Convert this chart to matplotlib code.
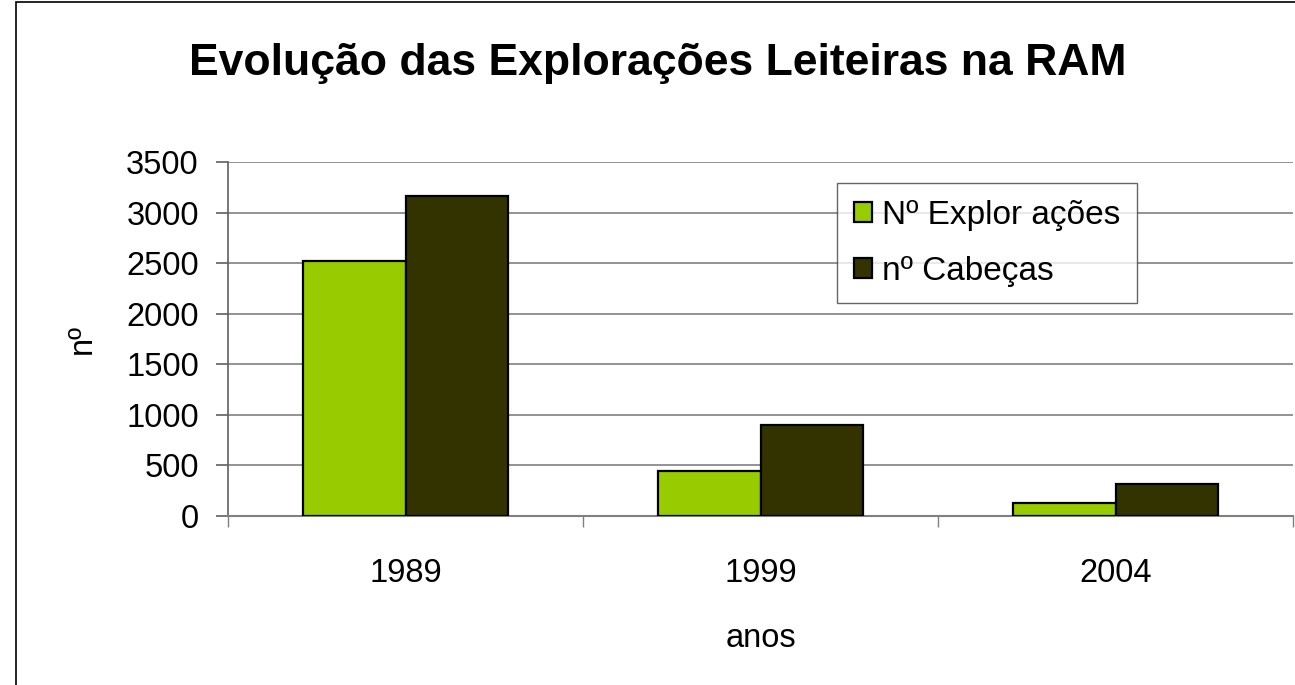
import matplotlib
matplotlib.use("Agg")
import matplotlib.pyplot as plt
import numpy as np
from matplotlib.patches import Rectangle

plt.rcParams['font.family'] = ['Liberation Sans', 'DejaVu Sans']

years = ["1989", "1999", "2004"]
exploracoes = [2525, 448, 132]
cabecas = [3165, 897, 320]
series_labels = ["Nº Explor ações", "nº Cabeças"]
colors = ["#99CC00", "#333300"]
yticks = [0, 500, 1000, 1500, 2000, 2500, 3000, 3500]

fig = plt.figure(figsize=(12.95, 6.85), dpi=100)
fig.patch.set_facecolor("white")
# outer chart border
fig.add_artist(Rectangle((16/1295, -0.01), 1.1, 1 - 2/685 + 0.01, transform=fig.transFigure,
                         fill=False, edgecolor="black", linewidth=1.2))

ax = fig.add_axes([228/1295, 1 - 516/685, (1293 - 228)/1295, (516 - 162)/685])
x = np.arange(len(years))
w = 0.29
ax.bar(x - w/2, exploracoes, width=w, color=colors[0], edgecolor="black", linewidth=1.6,
       label=series_labels[0], zorder=3)
ax.bar(x + w/2, cabecas, width=w, color=colors[1], edgecolor="black", linewidth=1.6,
       label=series_labels[1], zorder=3)

ax.set_xlim(-0.5, len(years) - 0.5)
ax.set_ylim(0, 3500)
ax.set_yticks(yticks)
ax.set_yticklabels([str(v) for v in yticks], fontsize=23.5)
ax.yaxis.grid(True, color="#808080", linewidth=1.2, zorder=0)
ax.set_xticks(x)
ax.set_xticklabels(years, fontsize=23.5)
ax.tick_params(axis='x', which='major', length=0, pad=30)
ax.set_xticks(np.arange(-0.5, len(years)), minor=True)
ax.tick_params(axis='x', which='minor', length=8, width=1, color="#808080")
ax.tick_params(axis='y', length=9, width=1.2, color="#606060", pad=12)
for s in ["top", "right"]:
    ax.spines[s].set_visible(False)
ax.spines["left"].set_color("#606060")
ax.spines["bottom"].set_color("#808080")
ax.spines["left"].set_linewidth(1.2)
ax.spines["bottom"].set_linewidth(1.5)

ax.set_xlabel("anos", fontsize=23.5, labelpad=25)
ax.set_ylabel("nº", fontsize=23.5, labelpad=20)

leg = ax.legend(loc="upper left", bbox_to_anchor=((837 - 228)/1065, 1 - (183 - 162)/354),
                fontsize=24, frameon=True, fancybox=False, edgecolor="#404040",
                handlelength=0.55, handleheight=0.55, handletextpad=0.3,
                borderpad=0.5, labelspacing=0.75, borderaxespad=0)
leg.get_frame().set_linewidth(1.0)
leg.set_zorder(5)

fig.text(658/1295, 1 - 63/685, "Evolução das Explorações Leiteiras na RAM",
         fontsize=32, fontweight="bold", ha="center", va="center")

fig.savefig("out.png", dpi=100)
